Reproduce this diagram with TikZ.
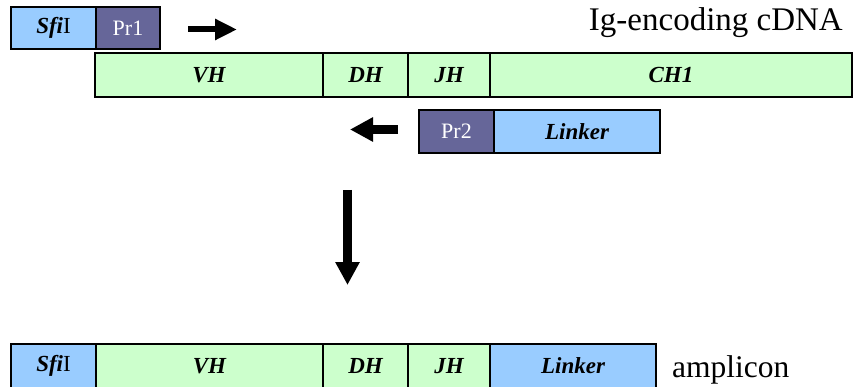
\documentclass[tikz,border=0pt]{standalone}
\usepackage{fontspec}
\setmainfont{Liberation Serif}
\usetikzlibrary{arrows.meta,shadows}
\definecolor{segblue}{HTML}{99CCFF}
\definecolor{segpurple}{HTML}{666699}
\definecolor{seggreen}{HTML}{CCFFCC}
\tikzset{
  seg/.style={draw=black, line width=1.4pt, inner sep=0pt, outer sep=0pt,
    anchor=north west, font=\fontsize{23}{26}\selectfont\bfseries\itshape,
    drop shadow={shadow xshift=1.4pt, shadow yshift=-1.4pt, fill=black!45, opacity=1}},
  blueseg/.style={seg, fill=segblue},
  greenseg/.style={seg, fill=seggreen},
  primer/.style={seg, fill=segpurple, text=white, font=\fontsize{22}{26}\selectfont},
  bigarrow/.style={line width=#1, -{Triangle[length=23pt,width=23pt]}},
  label/.style={inner sep=0pt, font=\fontsize{33}{36}\selectfont}
}
\begin{document}
\begin{tikzpicture}[x=1pt,y=-1pt]
\useasboundingbox (0,0) rectangle (853,387);
% top primer
\node[blueseg, minimum width=85, minimum height=42] (sfiA) at (11,7) {\textit{Sfi}\textnormal{I}};
\node[primer, minimum width=64, minimum height=42] (prA) at (96,7) {Pr1};
\coordinate (raS) at (188,29.5);
\coordinate (raE) at (237,29.5);
\draw[line width=6pt, -{Triangle[length=22pt,width=20pt]}] (raS) -- (raE);
\node[label, anchor=base east] (cdna) at (843,31) {Ig-encoding cDNA};
% cDNA
\node[greenseg, minimum width=228, minimum height=44] (vhA) at (95,53) {VH};
\node[greenseg, minimum width=85, minimum height=44] (dhA) at (323,53) {DH};
\node[greenseg, minimum width=82, minimum height=44] (jhA) at (408,53) {JH};
\node[greenseg, minimum width=362, minimum height=44] (chA) at (490,53) {CH1};
% reverse primer
\node[primer, minimum width=75, minimum height=43] (prB) at (419,110) {Pr2};
\node[blueseg, minimum width=166, minimum height=43] (lkA) at (494,110) {Linker};
\coordinate (laS) at (398,129.5);
\coordinate (laE) at (350,129.5);
\draw[bigarrow=9pt] (laS) -- (laE);
% down arrow
\coordinate (daS) at (347.5,190);
\coordinate (daE) at (347.5,285);
\draw[bigarrow=9pt] (daS) -- (daE);
% amplicon
\node[blueseg, minimum width=85, minimum height=44] (sfiB) at (11,344) {\textit{Sfi}\textnormal{I}};
\node[greenseg, minimum width=227, minimum height=44] (vhB) at (96,344) {VH};
\node[greenseg, minimum width=85, minimum height=44] (dhB) at (323,344) {DH};
\node[greenseg, minimum width=82, minimum height=44] (jhB) at (408,344) {JH};
\node[blueseg, minimum width=166, minimum height=44] (lkB) at (490,344) {Linker};
\node[label, anchor=base west, font=\fontsize{31.5}{36}\selectfont] (amp) at (672,377) {amplicon};
\end{tikzpicture}
\end{document}
